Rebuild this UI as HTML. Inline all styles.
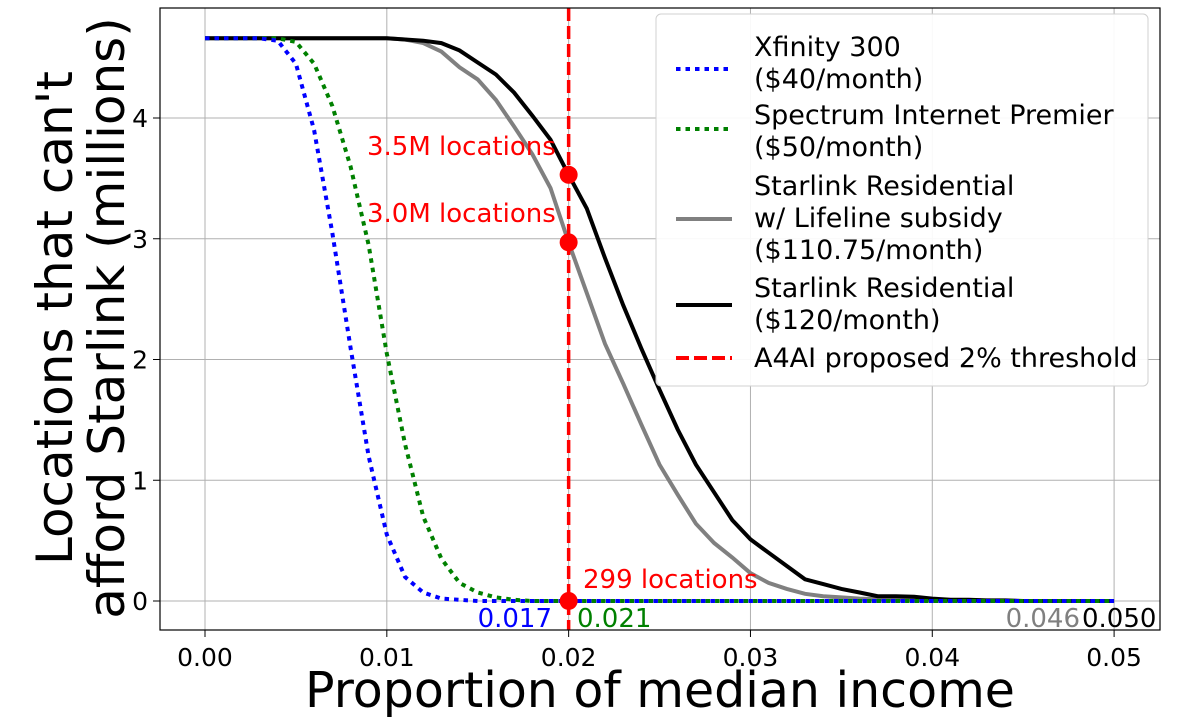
<!DOCTYPE html>
<html><head><meta charset="utf-8"><style>
body{margin:0;background:#fff;}
svg text{font-family:"DejaVu Sans","Liberation Sans",sans-serif;}
</style></head><body>
<svg id="chart" width="1200" height="721" xmlns="http://www.w3.org/2000/svg">
<g id="grid"></g>
<g id="series"></g>
<g id="axes"></g>
<g id="annos"></g>
<g id="legend"></g>
</svg>
<script>
const xs = [0,0.001,0.002,0.003,0.004,0.005,0.006,0.007,0.008,0.009,0.010,0.011,0.012,0.013,0.014,0.015,0.016,0.017,0.018,0.019,0.020,0.021,0.022,0.023,0.024,0.025,0.026,0.027,0.028,0.029,0.030,0.031,0.032,0.033,0.034,0.035,0.036,0.037,0.038,0.039,0.040,0.041,0.042,0.043,0.044,0.045,0.046,0.047,0.048,0.049,0.050];
const xfinity = [4.66,4.66,4.66,4.66,4.64,4.45,3.9,3.05,2.1,1.2,0.55,0.2,0.07,0.02,0.01,0,0,0,0,0,0,0,0,0,0,0,0,0,0,0,0,0,0,0,0,0,0,0,0,0,0,0,0,0,0,0,0,0,0,0,0];
const spectrum = [4.66,4.66,4.66,4.66,4.66,4.63,4.45,4.1,3.6,2.95,2.05,1.3,0.7,0.35,0.15,0.07,0.03,0.01,0,0,0,0,0,0,0,0,0,0,0,0,0,0,0,0,0,0,0,0,0,0,0,0,0,0,0,0,0,0,0,0,0];
const lifeline = [4.66,4.66,4.66,4.66,4.66,4.66,4.66,4.66,4.66,4.66,4.66,4.65,4.62,4.55,4.42,4.32,4.15,3.93,3.7,3.42,2.97,2.55,2.13,1.8,1.46,1.13,0.88,0.64,0.48,0.36,0.23,0.15,0.1,0.06,0.04,0.03,0.02,0.015,0.01,0.01,0.005,0,0,0,0,0,0];
const residential = [4.66,4.66,4.66,4.66,4.66,4.66,4.66,4.66,4.66,4.66,4.66,4.65,4.64,4.62,4.56,4.46,4.36,4.21,4.02,3.82,3.53,3.25,2.84,2.45,2.09,1.75,1.42,1.13,0.9,0.67,0.51,0.4,0.29,0.18,0.14,0.1,0.07,0.04,0.04,0.035,0.02,0.01,0.01,0.005,0.005,0,0,0,0,0,0];
const xTicks = [0,0.01,0.02,0.03,0.04,0.05];
const xTickLabels = ["0.00","0.01","0.02","0.03","0.04","0.05"];
const yTicks = [0,1,2,3,4];
const markers = [3.53,2.97,0.000299];

const NS="http://www.w3.org/2000/svg";
const L=160,R=1160,T=8,B=630;
function X(v){return 205+v*18182;}
function Y(v){return 601-v*120.75;}
function mk(tag,attrs,parent,text){const e=document.createElementNS(NS,tag);for(const k in attrs)e.setAttribute(k,attrs[k]);if(text!==undefined)e.textContent=text;parent.appendChild(e);return e;}
const grid=document.getElementById('grid'),ser=document.getElementById('series'),ax=document.getElementById('axes'),an=document.getElementById('annos'),lg=document.getElementById('legend');

xTicks.forEach((t,i)=>{
  const g=mk('line',{x1:X(t),x2:X(t),y1:T,y2:B,stroke:'#b0b0b0','stroke-width':1},grid);
  
  
  mk('line',{x1:X(t),x2:X(t),y1:B,y2:B+7,stroke:'#000','stroke-width':1},ax);
  const tl=mk('text',{x:X(t),y:B+36,'font-size':25,'text-anchor':'middle'},ax,xTickLabels[i]);
  
  
});
yTicks.forEach(t=>{
  const g=mk('line',{x1:L,x2:R,y1:Y(t),y2:Y(t),stroke:'#b0b0b0','stroke-width':1},grid);
  
  
  mk('line',{x1:L-7,x2:L,y1:Y(t),y2:Y(t),stroke:'#000','stroke-width':1},ax);
  const tl=mk('text',{x:L-12,y:Y(t)+9,'font-size':25,'text-anchor':'end'},ax,String(t));
  
  
});
const fr=mk('rect',{x:L,y:T,width:R-L,height:B-T,fill:'none',stroke:'#000','stroke-width':1.2},ax);



function path(vals,stroke,dash,name){
  let d='';vals.forEach((v,i)=>{d+=(i?'L':'M')+X(xs[i]).toFixed(1)+','+Y(v).toFixed(1);});
  const p=mk('path',{d:d,fill:'none',stroke:stroke,'stroke-width':4,'stroke-dasharray':dash||'none'},ser);
  
  
}
path(lifeline,'#808080',null,'lifeline-line');
path(residential,'#000',null,'residential-line');
path(spectrum,'#008000','4.5 5','spectrum-line');
path(xfinity,'#0000ff','4.5 5','xfinity-line');
const th=mk('line',{x1:X(0.02),x2:X(0.02),y1:T,y2:B,stroke:'#ff0000','stroke-width':3.5,'stroke-dasharray':'13 5'},ser);


markers.forEach(m=>{
  const c=mk('circle',{cx:X(0.02),cy:Y(m),r:9,fill:'#ff0000'},ser);
  
  
});

function txt(x,y,s,fill,anchor,name,size){
  const t=mk('text',{x:x,y:y,'font-size':size||26,fill:fill,'text-anchor':anchor||'start'},an,s);
  
  
}
txt(367,155,'3.5M locations','#ff0000','start','annotation-3-5m');
txt(367,222,'3.0M locations','#ff0000','start','annotation-3-0m');
txt(583,588,'299 locations','#ff0000','start','annotation-299');
txt(552,627,'0.017','#0000ff','end','xfinity-threshold-label');
txt(577,627,'0.021','#008000','start','spectrum-threshold-label');
txt(1080,627,'0.046','#808080','end','lifeline-threshold-label');
txt(1082,627,'0.050','#000','start','residential-threshold-label');

const xl=mk('text',{x:660,y:707,'font-size':49,'text-anchor':'middle'},ax,'Proportion of median income');


const yl1=mk('text',{x:0,y:0,'font-size':50,'text-anchor':'middle',transform:'translate(72,318) rotate(-90)'},ax,"Locations that can't");


const yl2=mk('text',{x:0,y:0,'font-size':50,'text-anchor':'middle',transform:'translate(124,318) rotate(-90)'},ax,'afford Starlink (millions)');



const box=mk('rect',{x:656,y:14,width:492,height:372,rx:5,fill:'#fff','fill-opacity':0.92,stroke:'#d0d0d0','stroke-width':1},lg);


const entries=[
 {c:'#0000ff',d:'4.5 5',ly:69,lines:['Xfinity 300','($40/month)'],ty:56,n:'legend-xfinity'},
 {c:'#008000',d:'4.5 5',ly:129,lines:['Spectrum Internet Premier','($50/month)'],ty:124,n:'legend-spectrum'},
 {c:'#808080',d:'none',ly:219,lines:['Starlink Residential','w/ Lifeline subsidy','($110.75/month)'],ty:195,n:'legend-lifeline'},
 {c:'#000',d:'none',ly:305,lines:['Starlink Residential','($120/month)'],ty:297,n:'legend-residential'},
 {c:'#ff0000',d:'13 5',ly:358,lines:['A4AI proposed 2% threshold'],ty:367,n:'legend-threshold'}
];
entries.forEach(e=>{
  const g=mk('g',{},lg);
  
  
  mk('line',{x1:676,x2:732,y1:e.ly,y2:e.ly,stroke:e.c,'stroke-width':4,'stroke-dasharray':e.d},g);
  e.lines.forEach((s,i)=>mk('text',{x:754,y:e.ty+i*32,'font-size':27},g,s));
});
</script>
</body></html>
